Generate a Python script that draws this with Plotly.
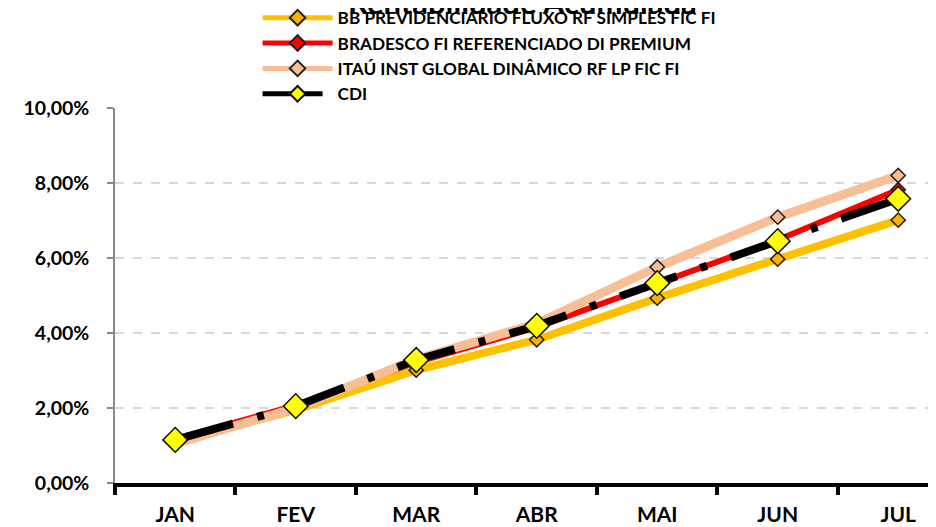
import plotly.graph_objects as go

months = ["JAN", "FEV", "MAR", "ABR", "MAI", "JUN", "JUL"]
bb = [1.10, 1.95, 3.01, 3.82, 4.93, 5.97, 7.01]
bradesco = [1.17, 2.07, 3.22, 4.15, 5.32, 6.48, 7.82]
itau = [1.05, 2.00, 3.30, 4.25, 5.76, 7.09, 8.20]
cdi = [1.15, 2.05, 3.28, 4.19, 5.33, 6.45, 7.58]

names = [
    "BB PREVIDENCIÁRIO FLUXO RF SIMPLES FIC FI",
    "BRADESCO FI REFERENCIADO DI PREMIUM",
    "ITAÚ INST GLOBAL DINÂMICO RF LP FIC FI",
    "CDI",
]

FONT = "Lato"

fig = go.Figure()
fig.add_trace(go.Scatter(
    x=months, y=bb, name=names[0], mode="lines+markers", legendgroup="a",
    line=dict(color="#FFC000", width=8),
    marker=dict(symbol="diamond", size=11, color="#FFB000", line=dict(color="#222222", width=1.5)),
))
fig.add_trace(go.Scatter(
    x=months, y=bradesco, name=names[1], mode="lines+markers", legendgroup="b",
    line=dict(color="#FF0000", width=6),
    marker=dict(symbol="diamond", size=11, color="#FF0000", line=dict(color="#222222", width=1.5)),
))
fig.add_trace(go.Scatter(
    x=months, y=itau, name=names[2], mode="lines+markers", legendgroup="c",
    line=dict(color="#F8BF96", width=9),
    marker=dict(symbol="diamond", size=11, color="#F8BF96", line=dict(color="#222222", width=1.5)),
))
fig.add_trace(go.Scatter(
    x=months, y=cdi, name=names[3], mode="lines+markers", legendgroup="d",
    line=dict(color="#000000", width=8, dash="60px,25px,7px,25px"),
    marker=dict(symbol="diamond", size=19, color="#FFFF00", line=dict(color="#111111", width=1.5)),
))

fig.update_layout(
    width=936, height=527,
    margin=dict(l=107, r=0, t=100, b=52, autoexpand=False),
    paper_bgcolor="white", plot_bgcolor="white",
    separators=",.",
    font=dict(family=FONT, color="#000000"),
    showlegend=True,
    legend=dict(
        x=0.172, y=1.288, xanchor="left", yanchor="top",
        font=dict(family=FONT, size=17.2, color="#000000", weight="bold"),
        itemwidth=70, tracegroupgap=0, itemsizing="constant",
        bgcolor="rgba(0,0,0,0)",
    ),
    annotations=[dict(
        text="<b>Rentabilidade Acumulada</b>", x=0.492, y=1.0, xref="paper", yref="paper",
        yshift=106, showarrow=False, yanchor="middle",
        font=dict(family=FONT, size=31, color="#000000"),
    )],
)

fig.update_xaxes(
    type="category", range=[-0.5, 6.38],
    showline=True, linecolor="#000000", linewidth=4,
    tickson="boundaries", ticks="outside", ticklen=8, tickwidth=4, tickcolor="#000000",
    ticklabelstandoff=10,
    showgrid=False, zeroline=False,
    tickfont=dict(family=FONT, size=21, color="#000000", weight="bold"),
)
fig.update_yaxes(
    range=[0, 10], dtick=2, tick0=0,
    tickformat=".2f", ticksuffix="%",
    showline=True, linecolor="#888888", linewidth=1.5,
    ticks="outside", ticklen=6, tickcolor="#888888", tickwidth=1.5,
    ticklabelstandoff=14,
    showgrid=True, gridcolor="#D9D9D9", griddash="dash", gridwidth=1.5,
    zeroline=False,
    tickfont=dict(family=FONT, size=19.5, color="#000000", weight="bold"),
)

fig.write_html("out.html")
